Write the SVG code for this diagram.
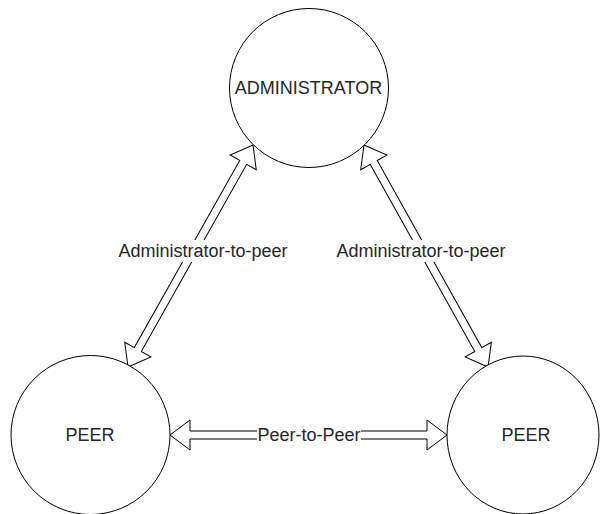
<svg xmlns="http://www.w3.org/2000/svg" width="600" height="514" viewBox="0 0 600 514">
<style>
.node{fill:#fff;stroke:#000;stroke-width:1}
.arrow{fill:#fff;stroke:#000;stroke-width:1;stroke-linejoin:miter}
.t{font-family:"Liberation Sans",Arial,sans-serif;font-size:18px;fill:#262626;text-anchor:middle;dominant-baseline:central}
.bg{fill:#fff;stroke:none}
</style>
<rect width="600" height="514" fill="#fff"/>
<g id="connectors">
<g id="edge-admin-peer-left">
<polygon class="arrow" transform="translate(128,367) rotate(-60.62)" points="0,0 20,-15 20,-4 234.8,-4 234.8,-15 254.8,0 234.8,15 234.8,4 20,4 20,15"/>
<rect class="bg" x="118" y="240" width="170" height="22"/>
<text class="t" x="203" y="251">Administrator-to-peer</text>
</g>
<g id="edge-admin-peer-right">
<polygon class="arrow" transform="translate(364,145) rotate(60.81)" points="0,0 20,-15 20,-4 234.3,-4 234.3,-15 254.3,0 234.3,15 234.3,4 20,4 20,15"/>
<rect class="bg" x="336" y="240" width="170" height="22"/>
<text class="t" x="421" y="251">Administrator-to-peer</text>
</g>
<g id="edge-peer-peer">
<polygon class="arrow" transform="translate(170,435)" points="0,0 20,-15 20,-4 257,-4 257,-15 277,0 257,15 257,4 20,4 20,15"/>
<rect class="bg" x="257" y="425" width="104" height="20"/>
<text class="t" x="309" y="435">Peer-to-Peer</text>
</g>
</g>
<g id="node-admin">
<circle class="node" cx="309" cy="88" r="79.5"/>
<text class="t" x="308.5" y="88">ADMINISTRATOR</text>
</g>
<g id="node-peer-left">
<circle class="node" cx="90.5" cy="435" r="79.5"/>
<text class="t" x="90" y="435">PEER</text>
</g>
<g id="node-peer-right">
<ellipse class="node" cx="523" cy="435" rx="76" ry="79"/>
<text class="t" x="526" y="435">PEER</text>
</g>
</svg>
